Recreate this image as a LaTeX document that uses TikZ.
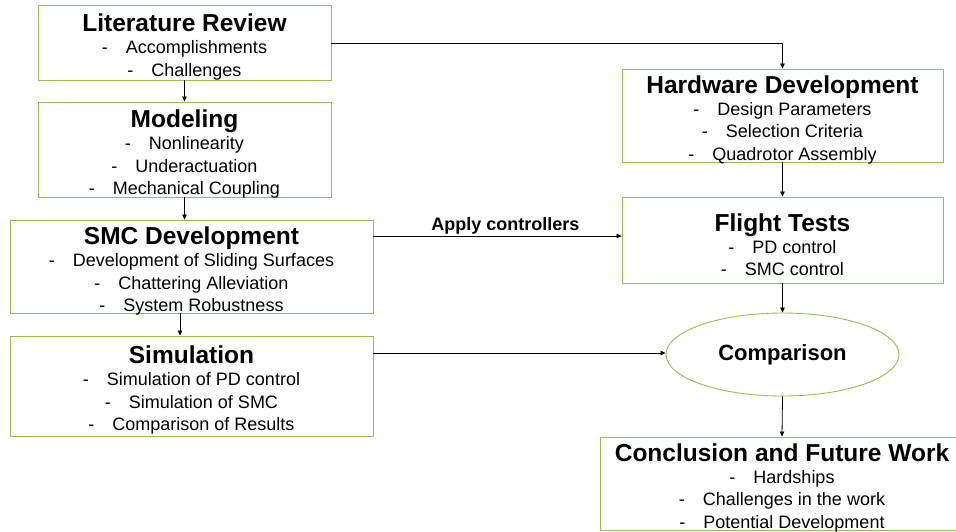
\documentclass[tikz,border=0pt]{standalone}
\usepackage{fontspec}
\setmainfont{Liberation Sans}
\usetikzlibrary{arrows.meta,shapes.geometric}
\definecolor{boxgreen}{RGB}{155,187,89}
\newcommand{\myitem}[1]{-\hspace{1em}#1}
\newcommand{\mytitle}[1]{{\fontsize{24.5}{26}\selectfont\bfseries #1}\\[-0.5pt]}
\begin{document}
\begin{tikzpicture}[x=1pt,y=-1pt,
  box/.style={draw=boxgreen, line width=0.9pt, inner sep=0pt},
  txt/.style={align=center, inner sep=0pt, font=\fontsize{18}{22.5}\selectfont},
  arr/.style={-{Triangle[length=5pt,width=4.5pt]}, line width=0.8pt},
  oval/.style={ellipse, draw=boxgreen, line width=0.9pt, inner sep=0pt,
    font=\fontsize{22}{24}\selectfont\bfseries}
]
\useasboundingbox (0,0) rectangle (956,531);
\clip (0,0) rectangle (956,531);
% boxes
\node[box, minimum width=293pt, minimum height=75pt] (lit) at (184.5,42.5) {};
\node[box, minimum width=293pt, minimum height=95pt] (mod) at (184.5,149.5) {};
\node[box, minimum width=363pt, minimum height=93pt] (smc) at (191.5,266.5) {};
\node[box, minimum width=363pt, minimum height=100pt] (sim) at (191.5,386) {};
\node[box, minimum width=321pt, minimum height=93pt] (hw) at (782.5,115.5) {};
\node[box, minimum width=321pt, minimum height=86pt] (ft) at (782.5,240) {};
\node[oval, minimum width=233pt, minimum height=83pt] (cmp) at (782.5,354.5) {Comparison};
\node[box, minimum width=364pt, minimum height=93pt] (conc) at (782,483.5) {};
% texts
\node[txt] (litT) at (184.5,47)
  {\mytitle{Literature Review}\myitem{Accomplishments}\\\myitem{Challenges}};
\node[txt] (modT) at (184.5,154)
  {\mytitle{Modeling}\myitem{Nonlinearity}\\\myitem{Underactuation}\\\myitem{Mechanical Coupling}};
\node[txt] (smcT) at (191.5,271)
  {\mytitle{SMC Development}\myitem{Development of Sliding Surfaces}\\\myitem{Chattering Alleviation}\\\myitem{System Robustness}};
\node[txt] (simT) at (191.5,390)
  {\mytitle{Simulation}\myitem{Simulation of PD control}\\\myitem{Simulation of SMC}\\\myitem{Comparison of Results}};
\node[txt] (hwT) at (782.5,119.5)
  {\mytitle{Hardware Development}\myitem{Design Parameters}\\\myitem{Selection Criteria}\\\myitem{Quadrotor Assembly}};
\node[txt] (ftT) at (782.5,244.5)
  {\mytitle{Flight Tests}\myitem{PD control}\\\myitem{SMC control}};
\node[txt] (concT) at (782,487.5)
  {\mytitle{Conclusion and Future Work}\myitem{Hardships}\\\myitem{Challenges in the work}\\\myitem{Potential Development}};
% connectors
\coordinate (corner) at (hw.north |- 0,43);
\draw[arr] (lit.east |- 0,43) -- (corner) -- (hw.north);
\draw[arr] (lit.south) -- (mod.north);
\draw[arr] (mod.south) -- (smc.north -| mod.south);
\draw[arr] (smc.south -| 180,0) -- (sim.north -| 180,0);
\draw[arr] (smc.east |- 0,236) -- node[above=-2pt, xshift=8pt, font=\fontsize{18}{20}\selectfont\bfseries] (lbl) {Apply controllers} (ft.west |- 0,236);
\draw[arr] (hw.south) -- (ft.north);
\draw[arr] (ft.south) -- (cmp.north);
\draw[arr] (sim.east |- 0,353) -- (cmp.west |- 0,353);
\draw[arr] (cmp.south) -- (conc.north);
\end{tikzpicture}
\end{document}
